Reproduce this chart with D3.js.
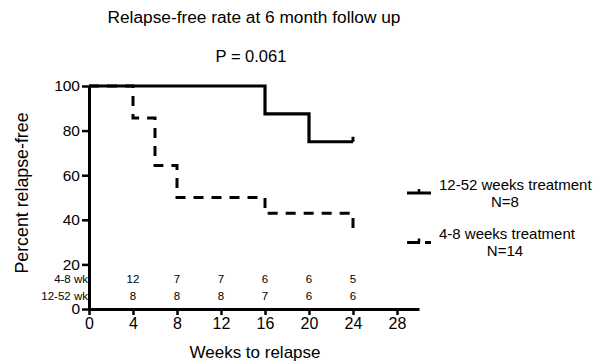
<!DOCTYPE html>
<html>
<head>
<meta charset="utf-8">
<script src="https://cdn.jsdelivr.net/npm/d3@7"></script>
<style>
  body { margin: 0; background: #fff; }
  svg { display: block; font-family: "Liberation Sans", Arial, sans-serif; }
  .domain { stroke: #000; stroke-width: 3px; }
  .tick line { stroke: #000; stroke-width: 2.5px; }
  .tick text { font-size: 16px; fill: #000; }
  .yaxis .tick text { font-size: 15.5px; }
</style>
</head>
<body>
<div id="chart"></div>
<script>
// survival steps, 12-52 weeks treatment (N=8)
var longWeeks = [0, 16, 20, 24];
var longSurv = [100, 87.5, 75, 75];

// survival steps, 4-8 weeks treatment (N=14)
var shortWeeks = [0, 4, 6, 8, 16, 24];
var shortSurv = [100, 85.7, 64.3, 50, 42.9, 35.7];

// numbers at risk
var riskWeeks = [4, 8, 12, 16, 20, 24];
var riskShort = [12, 7, 7, 6, 6, 5];
var riskLong = [8, 8, 8, 7, 6, 6];
var riskLabels = ["4-8 wk", "12-52 wk"];

var xTicks = [0, 4, 8, 12, 16, 20, 24, 28];
var yTicks = [0, 20, 40, 60, 80, 100];

var legendNames = ["12-52 weeks treatment", "4-8 weeks treatment"];
var legendN = ["N=8", "N=14"];

// set the dimensions and margins of the graph
var margin = { top: 86, right: 182, bottom: 53, left: 89 },
  width = 601 - margin.left - margin.right,
  height = 362 - margin.top - margin.bottom;

var root = d3
  .select("#chart")
  .append("svg")
  .attr("width", 601)
  .attr("height", 362);

var svg = root
  .append("g")
  .attr("transform", "translate(" + margin.left + "," + margin.top + ")");

var x = d3.scaleLinear().domain([0, 30]).range([0, width]);
var y = d3.scaleLinear().domain([0, 100]).range([height, 0]);

// titles
root
  .append("text")
  .attr("x", 254)
  .attr("y", 23)
  .attr("text-anchor", "middle")
  .attr("font-size", "17.3px")
  .text("Relapse-free rate at 6 month follow up");
root
  .append("text")
  .attr("x", 251)
  .attr("y", 62)
  .attr("text-anchor", "middle")
  .attr("font-size", "16.5px")
  .text("P = 0.061");

// curves
var toPoints = function (weeks, surv) {
  return weeks.map(function (w, i) {
    return [w, surv[i]];
  });
};
var step = d3
  .line()
  .x(function (d) {
    return x(d[0]);
  })
  .y(function (d) {
    return y(d[1]);
  })
  .curve(d3.curveStepAfter);

svg
  .append("path")
  .attr("d", step(toPoints(shortWeeks, shortSurv)))
  .attr("fill", "none")
  .attr("stroke", "#000")
  .attr("stroke-width", 3)
  .attr("stroke-dasharray", "10,8");

svg
  .append("path")
  .attr("d", step(toPoints(longWeeks, longSurv)))
  .attr("fill", "none")
  .attr("stroke", "#000")
  .attr("stroke-width", 3.2);

// censor mark at end of solid curve
var lastW = longWeeks[longWeeks.length - 1];
var lastS = longSurv[longSurv.length - 1];
svg
  .append("line")
  .attr("x1", x(lastW))
  .attr("x2", x(lastW))
  .attr("y1", y(lastS))
  .attr("y2", y(lastS) - 5)
  .attr("stroke", "#000")
  .attr("stroke-width", 3);

// axes
svg
  .append("g")
  .attr("transform", "translate(0," + height + ")")
  .call(d3.axisBottom(x).tickValues(xTicks).tickSize(6).tickSizeOuter(0).tickPadding(3));
svg
  .append("g")
  .attr("class", "yaxis")
  .call(d3.axisLeft(y).tickValues(yTicks).tickSize(7).tickSizeOuter(0).tickPadding(2));

// numbers at risk table
var rows = [riskShort, riskLong];
var rowY = [283, 299.5];
rows.forEach(function (vals, r) {
  svg
    .append("text")
    .attr("x", -1)
    .attr("y", rowY[r] - margin.top)
    .attr("text-anchor", "end")
    .attr("font-size", "11.5px")
    .text(riskLabels[r]);
  svg
    .selectAll("risk" + r)
    .data(vals)
    .enter()
    .append("text")
    .attr("x", function (d, i) {
      return x(riskWeeks[i]);
    })
    .attr("y", rowY[r] - margin.top)
    .attr("text-anchor", "middle")
    .attr("font-size", "11.5px")
    .text(function (d) {
      return d;
    });
});

// axis labels
root
  .append("text")
  .attr("x", 255)
  .attr("y", 358)
  .attr("text-anchor", "middle")
  .attr("font-size", "17px")
  .text("Weeks to relapse");
root
  .append("text")
  .attr("transform", "translate(28,193) rotate(-90)")
  .attr("text-anchor", "middle")
  .attr("font-size", "17.8px")
  .text("Percent relapse-free");

// legend
var legY = [193, 242.5];
var legText = [190, 239];
legendNames.forEach(function (name, i) {
  root
    .append("line")
    .attr("x1", 407)
    .attr("x2", 431)
    .attr("y1", legY[i])
    .attr("y2", legY[i])
    .attr("stroke", "#000")
    .attr("stroke-width", 3)
    .attr("stroke-dasharray", i == 1 ? "13,5" : null);
  root
    .append("line")
    .attr("x1", 419)
    .attr("x2", 419)
    .attr("y1", legY[i])
    .attr("y2", legY[i] - 4)
    .attr("stroke", "#000")
    .attr("stroke-width", 2.5);
  root
    .append("text")
    .attr("x", 439)
    .attr("y", legText[i])
    .attr("font-size", "15px")
    .text(name);
  root
    .append("text")
    .attr("x", 505)
    .attr("y", legText[i] + 16.5)
    .attr("text-anchor", "middle")
    .attr("font-size", "15px")
    .text(legendN[i]);
});
</script>
</body>
</html>
